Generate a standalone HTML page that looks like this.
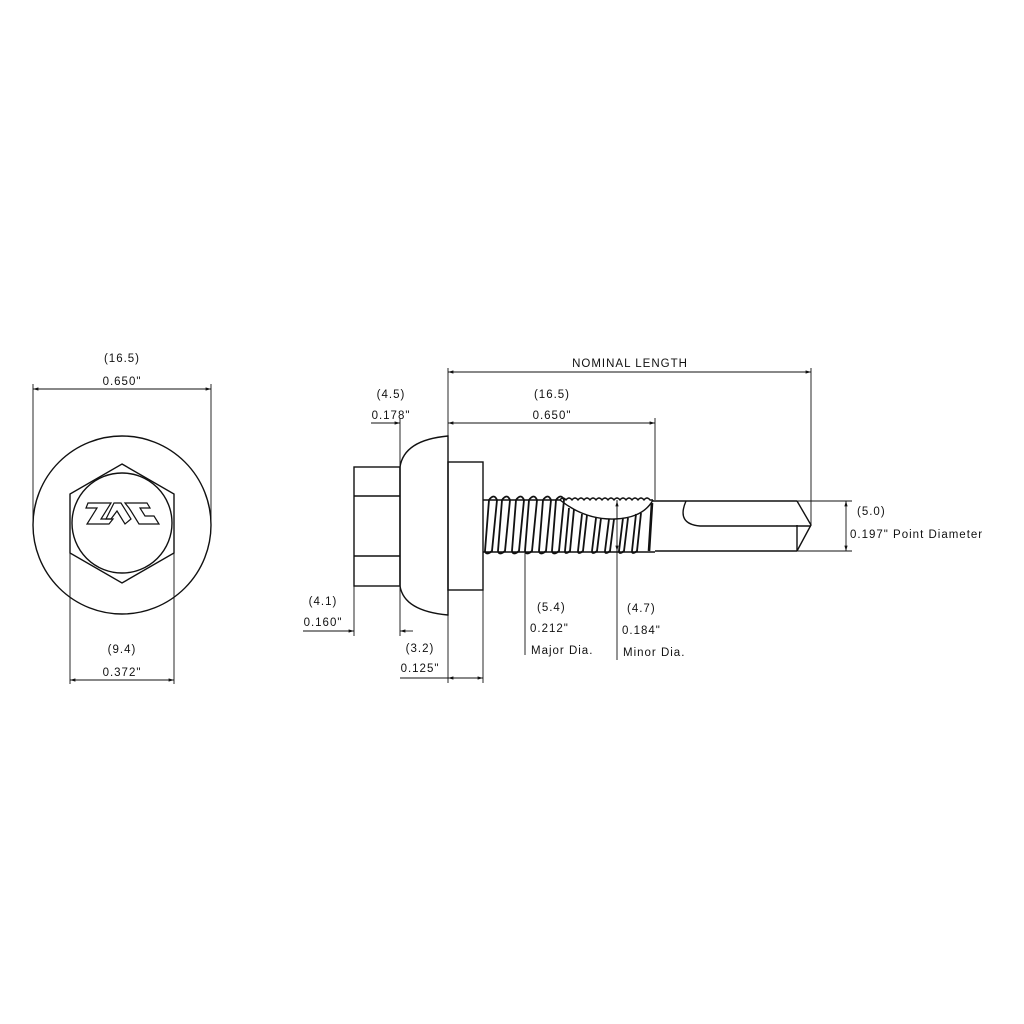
<!DOCTYPE html>
<html><head><meta charset="utf-8"><style>
html,body{margin:0;padding:0;background:#fff;}
svg{display:block;}
text{font-family:"Liberation Sans",sans-serif;font-size:11.5px;letter-spacing:1px;fill:#111;}
</style></head><body>
<svg width="1024" height="1024" viewBox="0 0 1024 1024" xmlns="http://www.w3.org/2000/svg">
<defs>
<marker id="a" viewBox="0 0 10 10" refX="10" refY="5" markerWidth="8" markerHeight="6" orient="auto-start-reverse"><path d="M0,2 L10,5 L0,8 z" fill="#111"/></marker>
</defs>
<g stroke="#111" fill="none" stroke-width="1.4">
<circle cx="122" cy="525" r="89"/>
<polygon points="122,464 174,494 174,553 122,583 70,553 70,494"/>
<circle cx="122" cy="523" r="50"/>
<path d="M88,503 L111,503 L101,519 L113,519 L109,524 L87,524 L97,508 L86,508 Z" stroke-width="1.2"/>
<path d="M114,503 L121,503 L131,519 L125,524 L117,511 L111,519 L106,519 Z" stroke-width="1.2"/>
<path d="M125,503 L147,503 L150,508 L140,508 L145,516 L154,516 L159,524 L139,524 L131,511 L129,508 Z" stroke-width="1.2"/>
<g stroke-width="0.9">
<line x1="33" y1="384" x2="33" y2="525"/>
<line x1="211" y1="384" x2="211" y2="525"/>
<line x1="33" y1="389" x2="211" y2="389" marker-start="url(#a)" marker-end="url(#a)"/>
<line x1="70" y1="553" x2="70" y2="684"/>
<line x1="174" y1="553" x2="174" y2="684"/>
<line x1="70" y1="680" x2="174" y2="680" marker-start="url(#a)" marker-end="url(#a)"/>
</g>
<rect x="354" y="467" width="46" height="119"/>
<line x1="354" y1="496" x2="400" y2="496"/>
<line x1="354" y1="556" x2="400" y2="556"/>
<path d="M400,467 Q404,440 448,436 L448,615 Q404,611 400,586 Z"/>
<rect x="448" y="462" width="35" height="128"/>
<line x1="483" y1="500" x2="560" y2="500"/>
<path d="M560,500 q3,-4 6,0 q3,-4 6,0 q3,-4 6,0 q3,-4 6,0 q3,-4 6,0 q3,-4 6,0 q3,-4 6,0 q3,-4 6,0 q3,-4 6,0 q3,-4 6,0 q3,-4 6,0 q3,-4 6,0 q3,-4 6,0 q3,-4 6,0 q3,-4 6,0 L653,500"/>
<path d="M560,500 Q585,520 615,519 Q643,518 653,500"/>
<line x1="483" y1="552" x2="655" y2="552"/>
<line x1="653" y1="501" x2="797" y2="501"/>
<line x1="655" y1="551" x2="797" y2="551"/>
<path d="M797,501 L811,525 L797,551"/>
<line x1="797" y1="525" x2="797" y2="551"/>
<path d="M686,501 Q676,524 700,526 L811,526"/>
<g stroke-width="1.8">
<path d="M489,500 Q494,493 497,500 L492,551 Q486,556 485,551 Z"/>
<path d="M502,500 Q507,493 510,500 L505,551 Q499,556 498,551 Z"/>
<path d="M516,500 Q521,493 524,500 L519,551 Q513,556 512,551 Z"/>
<path d="M529,500 Q534,493 537,500 L532,551 Q526,556 525,551 Z"/>
<path d="M543,500 Q548,493 551,500 L546,551 Q540,556 539,551 Z"/>
<path d="M556,500 Q561,493 564,500 L559,551 Q553,556 552,551 Z"/>
<path d="M574,509 L570,551 Q565,555 565,551 L569,508"/>
<path d="M587,515 L583,551 Q578,555 578,551 L582,514"/>
<path d="M601,518 L597,551 Q592,555 592,551 L596,518"/>
<path d="M614,519 L610,551 Q605,555 605,551 L609,519"/>
<path d="M628,518 L624,551 Q619,555 619,551 L623,518"/>
<path d="M641,513 L637,551 Q632,555 632,551 L636,514"/>
<line x1="652" y1="503" x2="649" y2="551" stroke-width="2.6"/>
</g>
<g stroke-width="0.9">
<line x1="448" y1="368" x2="448" y2="436"/>
<line x1="811" y1="368" x2="811" y2="525"/>
<line x1="448" y1="372" x2="811" y2="372" marker-start="url(#a)" marker-end="url(#a)"/>
<line x1="400" y1="418" x2="400" y2="467"/>
<line x1="655" y1="418" x2="655" y2="500"/>
<line x1="371" y1="423" x2="400" y2="423" marker-end="url(#a)"/>
<line x1="448" y1="423" x2="655" y2="423" marker-start="url(#a)" marker-end="url(#a)"/>
<line x1="354" y1="586" x2="354" y2="636"/>
<line x1="400" y1="586" x2="400" y2="636"/>
<line x1="303" y1="631" x2="354" y2="631" marker-end="url(#a)"/>
<line x1="413" y1="631" x2="400" y2="631" marker-end="url(#a)"/>
<line x1="448" y1="615" x2="448" y2="683"/>
<line x1="483" y1="590" x2="483" y2="683"/>
<line x1="400" y1="678" x2="448" y2="678"/>
<line x1="448" y1="678" x2="483" y2="678" marker-start="url(#a)" marker-end="url(#a)"/>
<line x1="525" y1="553" x2="525" y2="655"/>
<line x1="617" y1="500" x2="617" y2="660"/>
<line x1="617" y1="519" x2="617" y2="501" marker-end="url(#a)"/>
<line x1="617" y1="540" x2="617" y2="551" marker-end="url(#a)"/>
<line x1="797" y1="501" x2="852" y2="501"/>
<line x1="797" y1="551" x2="852" y2="551"/>
<line x1="846" y1="501" x2="846" y2="551" marker-start="url(#a)" marker-end="url(#a)"/>
</g>
</g>
<text x="122" y="362" text-anchor="middle">(16.5)</text>
<text x="122" y="385" text-anchor="middle">0.650"</text>
<text x="122" y="653" text-anchor="middle">(9.4)</text>
<text x="122" y="676" text-anchor="middle">0.372"</text>
<text x="630" y="367" text-anchor="middle">NOMINAL LENGTH</text>
<text x="391" y="398" text-anchor="middle">(4.5)</text>
<text x="391" y="419" text-anchor="middle">0.178"</text>
<text x="552" y="398" text-anchor="middle">(16.5)</text>
<text x="552" y="419" text-anchor="middle">0.650"</text>
<text x="323" y="605" text-anchor="middle">(4.1)</text>
<text x="323" y="626" text-anchor="middle">0.160"</text>
<text x="420" y="652" text-anchor="middle">(3.2)</text>
<text x="420" y="672" text-anchor="middle">0.125"</text>
<text x="537" y="611">(5.4)</text>
<text x="530" y="632">0.212"</text>
<text x="531" y="654">Major Dia.</text>
<text x="627" y="612">(4.7)</text>
<text x="622" y="634">0.184"</text>
<text x="623" y="656">Minor Dia.</text>
<text x="857" y="515">(5.0)</text>
<text x="850" y="538">0.197" Point Diameter</text>
</svg>
</body></html>
